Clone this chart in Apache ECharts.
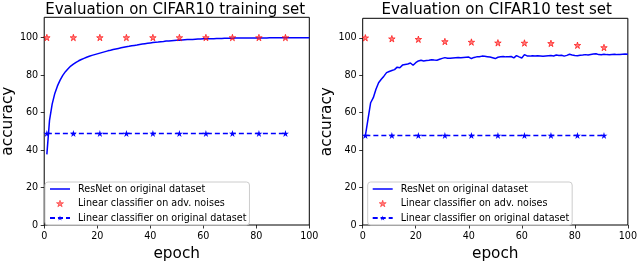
<!DOCTYPE html>
<html>
<head>
<meta charset="utf-8">
<script src="https://cdn.jsdelivr.net/npm/echarts@6/dist/echarts.min.js"></script>
<style>html,body{margin:0;padding:0;background:#fff;}#c{width:640px;height:267px;}</style>
</head>
<body>
<div id="c"></div>
<script>
// ResNet accuracy per epoch (epochs 1..100)
const resnetTrain = [
37.7,55.8,64.5,70.2,74.2,77.3,79.8,81.8,83.4,84.8,
85.8,86.8,87.6,88.3,88.9,89.5,90.0,90.5,90.9,91.3,
91.7,92.1,92.5,92.9,93.2,93.6,93.9,94.2,94.5,94.8,
95.1,95.3,95.6,95.8,96.0,96.3,96.5,96.7,96.9,97.1,
97.3,97.5,97.6,97.8,97.9,98.1,98.2,98.3,98.4,98.5,
98.6,98.7,98.8,98.9,99.0,99.0,99.1,99.2,99.2,99.3,
99.3,99.4,99.4,99.4,99.5,99.5,99.5,99.6,99.6,99.6,
99.6,99.7,99.7,99.7,99.7,99.7,99.8,99.8,99.8,99.8,
99.8,99.8,99.8,99.8,99.9,99.9,99.9,99.9,99.9,99.9,
99.9,99.9,99.9,99.9,99.9,99.9,99.9,99.9,99.9,99.9
];
const resnetTest = [
47.6,56.5,65.3,68.0,72.5,76.0,77.8,79.5,81.4,82.0,
82.5,83.0,84.3,84.0,85.4,85.7,86.0,86.5,85.3,86.7,
87.6,88.0,87.6,87.8,88.0,88.3,88.1,88.0,88.5,89.0,
89.4,89.1,89.0,89.2,89.3,89.4,89.3,89.5,89.6,89.7,
88.9,89.5,89.8,89.9,90.2,90.1,89.9,89.7,89.3,88.9,
89.6,89.9,90.0,89.8,89.9,90.0,89.3,90.5,89.8,89.2,
91.0,90.3,90.2,90.4,90.3,90.4,90.3,90.1,90.3,90.4,
90.5,90.3,90.8,90.5,90.7,90.2,90.6,91.2,90.8,90.5,
90.4,90.7,90.8,91.0,90.8,91.1,91.3,91.5,91.0,90.9,
91.2,91.0,90.9,91.1,91.2,91.0,91.1,91.2,91.3,91.2
];
const markerEpochs = [1,11,21,31,41,51,61,71,81,91];
const advTrain = [100,100,100,100,100,100,100,100,100,100];
const advTest  = [100,99.5,99.2,98.0,97.7,97.3,97.2,97.0,96.0,94.8];
const linTrain = [48.8,48.8,48.8,48.8,48.8,48.8,48.8,48.8,48.8,48.8];
const linTest  = [47.8,47.8,47.8,47.8,47.8,47.8,47.8,47.8,47.8,47.8];
const xTicks = [0,20,40,60,80,100];
const yTicks = [0,20,40,60,80,100];
const titles = ['Evaluation on CIFAR10 training set','Evaluation on CIFAR10 test set'];
const names = ['ResNet on original dataset','Linear classifier on adv. noises','Linear classifier on original dataset'];

const STAR = 'path://M50,0 L61.8,35.4 L100,35.4 L69.1,57.3 L80.9,92.7 L50,70.8 L19.1,92.7 L30.9,57.3 L0,35.4 L38.2,35.4 Z';
const LINEICON = 'path://M0,0 L40,0 L40,3 L0,3 Z';
const FONT = 'DejaVu Sans';

const grids = [
  {left:41, top:17.3, width:268.3, height:214.4, ymax:110.8},
  {left:362.7, top:18.3, width:268, height:213.4, ymax:110.4}
];

function pairsIdx(arr){ return arr.map((v,i)=>[i+1,v]); }
function pairsM(arr){ return arr.map((v,i)=>[markerEpochs[i],v]); }

const option = {
  animation:false,
  backgroundColor:'#fff',
  title: grids.map((g,i)=>({
    text:titles[i], left:g.left+g.width/2, top:2.5, textAlign:'center', padding:0,
    textStyle:{fontFamily:FONT,fontSize:15,fontWeight:'normal',color:'#000'}
  })),
  grid: grids.map(g=>({left:g.left, top:g.top, width:g.width, height:g.height,
    show:true, borderColor:'#000', borderWidth:1, backgroundColor:'transparent', containLabel:false})),
  xAxis: grids.map((g,i)=>({
    type:'value', gridIndex:i, min:0, max:100, interval:20,
    name:'epoch', nameLocation:'middle', nameGap:22,
    nameTextStyle:{fontFamily:FONT,fontSize:15.3,color:'#000'},
    axisLine:{show:false}, splitLine:{show:false},
    axisTick:{show:true,inside:false,length:3.5,lineStyle:{color:'#000',width:0.8},customValues:xTicks},
    axisLabel:{fontFamily:FONT,fontSize:9.6,color:'#000',margin:6,customValues:xTicks}
  })),
  yAxis: grids.map((g,i)=>({
    type:'value', gridIndex:i, min:0, max:g.ymax,
    name:'accuracy', nameLocation:'middle', nameGap:23, nameRotate:90,
    nameTextStyle:{fontFamily:FONT,fontSize:15.3,color:'#000'},
    axisLine:{show:false}, splitLine:{show:false},
    axisTick:{show:true,inside:false,length:3.5,lineStyle:{color:'#000',width:0.8},customValues:yTicks},
    axisLabel:{fontFamily:FONT,fontSize:9.6,color:'#000',margin:6,customValues:yTicks}
  })),
  legend: [
    {left:45, top:182},
    {left:367.7, top:182}
  ].map(p=>({
    data:[
      {name:names[0], icon:LINEICON},
      {name:names[1], icon:STAR, itemStyle:{borderWidth:0.6, borderColor:'#ff0000', color:'rgba(255,40,40,0.75)'}},
      {name:names[2]}
    ],
    orient:'vertical', left:p.left, top:p.top,
    padding:[2,3,2,4], itemGap:4.5, itemWidth:20, itemHeight:6.5,
    backgroundColor:'rgba(255,255,255,0.8)', borderColor:'#cccccc', borderWidth:1, borderRadius:3,
    textStyle:{fontFamily:FONT,fontSize:9.6,color:'#000',padding:[0,0,0,3]},
    selectedMode:false
  })),
  series: []
};

[ [resnetTrain, advTrain, linTrain], [resnetTest, advTest, linTest] ].forEach((d,i)=>{
  option.series.push({
    name:names[0], type:'line', xAxisIndex:i, yAxisIndex:i, data:pairsIdx(d[0]),
    symbol:'none', lineStyle:{color:'#0000ff',width:1.5}, itemStyle:{color:'#0000ff'}, z:2
  });
  option.series.push({
    name:names[1], type:'scatter', xAxisIndex:i, yAxisIndex:i, data:pairsM(d[1]),
    symbol:STAR, symbolSize:6.5,
    itemStyle:{color:'rgba(255,40,40,0.75)', borderColor:'#ff0000', borderWidth:0.8}, z:3
  });
  option.series.push({
    name:names[2], type:'line', xAxisIndex:i, yAxisIndex:i, data:pairsM(d[2]),
    symbol:STAR, symbolSize:7, showSymbol:true,
    lineStyle:{color:'#0000ff',width:1.5,type:[5,3]}, itemStyle:{color:'#0000ff'}, z:2
  });
});

const chart = echarts.init(document.getElementById('c'), null, {renderer:'canvas'});
chart.setOption(option);
</script>
</body>
</html>
